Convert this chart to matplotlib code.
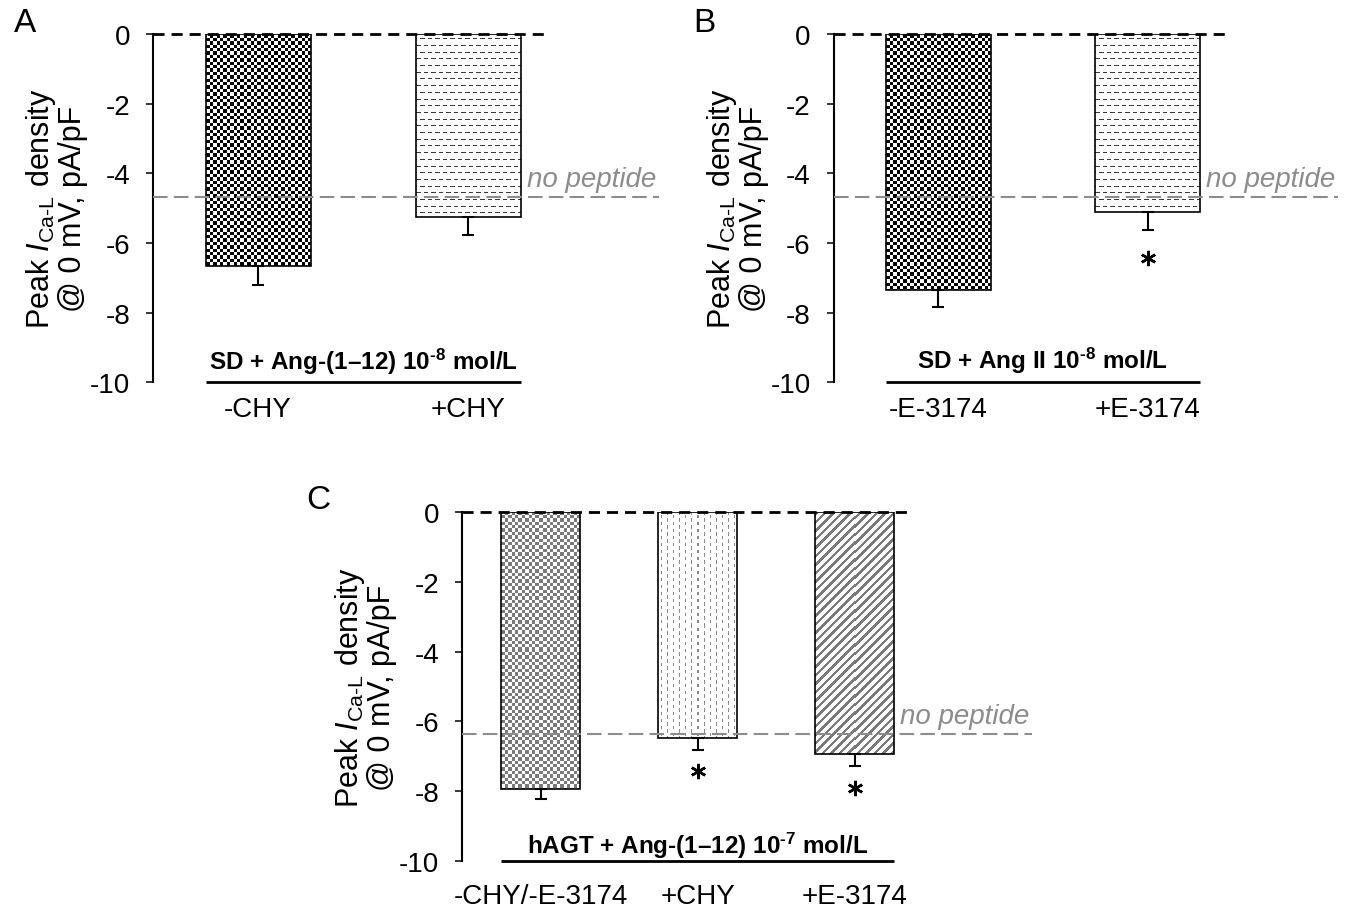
import numpy as np
import matplotlib
matplotlib.use("Agg")
import matplotlib.pyplot as plt
from matplotlib import transforms as mtrans
from matplotlib.colors import to_rgb

# ---------------- data ----------------
a_labels = ['-CHY', '+CHY']
a_values = [-6.65, -5.24]
a_errors = [0.55, 0.54]
a_nopep = -4.69
a_sig = [False, False]
a_group = 'SD + Ang-(1–12) 10$^{\\mathbf{‐8}}$ mol/L'

b_labels = ['-E-3174', '+E-3174']
b_values = [-7.34, -5.10]
b_errors = [0.51, 0.52]
b_nopep = -4.69
b_sig = [False, True]
b_group = 'SD + Ang II 10$^{\\mathbf{‐8}}$ mol/L'

c_labels = ['-CHY/-E-3174', '+CHY', '+E-3174']
c_values = [-7.94, -6.48, -6.92]
c_errors = [0.28, 0.33, 0.36]
c_nopep = -6.35
c_sig = [False, True, True]
c_group = 'hAGT + Ang-(1–12) 10$^{\\mathbf{‐7}}$ mol/L'

y_ticks = [0, -2, -4, -6, -8, -10]
ylabel1 = 'Peak $I_{\\text{Ca-L}}$ density'
ylabel2 = '@ 0 mV, pA/pF'

# ---------------- style ----------------
plt.rcParams['font.family'] = ['Liberation Sans', 'DejaVu Sans']
plt.rcParams['mathtext.fontset'] = 'custom'
plt.rcParams['mathtext.rm'] = 'Liberation Sans'
plt.rcParams['mathtext.it'] = 'Liberation Sans:italic'
plt.rcParams['mathtext.bf'] = 'Liberation Sans:bold'
plt.rcParams['axes.unicode_minus'] = False

W, H, DPI = 1355, 912, 100
fig = plt.figure(figsize=(W / DPI, H / DPI), dpi=DPI)
GRAY_TXT = '#8c8c8c'


def px_axes(left, top, right, bottom):
    return fig.add_axes([left / W, 1 - bottom / H, (right - left) / W, (bottom - top) / H])


def grid(w, h):
    jj, ii = np.meshgrid(np.arange(w), np.arange(h))
    return ii, jj


def compose(mask, fg, bg='white'):
    fg = np.array(to_rgb(fg)); bg = np.array(to_rgb(bg))
    return np.where(mask[..., None], fg, bg)


def pat_checker(w, h, color):
    ii, jj = grid(w, h)
    cell = 3.4
    m = ((np.floor(ii / cell) + np.floor(jj / cell)) % 2).astype(bool)
    return compose(m, color)


def pat_hdash(w, h):
    ii, jj = grid(w, h)
    rp = 6.7
    rows = np.floor((ii + 3) / rp)
    on_row = ((ii + 3) % rp) < 1
    off = (rows % 2) * 3.75
    m = on_row & (((jj + off) % 7.5) < 4.5)
    return compose(m, '#3a3a3a')


def pat_vdash(w, h):
    ii, jj = grid(w, h)
    cp = 6.0
    cols = np.floor((jj + 3) / cp)
    on_col = ((jj + 3) % cp) < 1
    off = (cols % 2) * 3.5
    m = on_col & (((ii + off) % 7.0) < 3.5)
    return compose(m, '#8a8a8a')


def pat_diag(w, h):
    ii, jj = grid(w, h)
    m = ((jj + ii) % 8.5) < 3.5
    return compose(m, '#7a7a7a')


def panel(box, labels, values, errors, nopep, sig, group, patterns,
          letter, letter_xy, xlab_pad, group_off, star_off):
    n = len(values)
    ax = px_axes(*box)
    ax.set_xlim(-0.5, n - 0.5)
    ax.set_ylim(-10, 0)
    ax.set_autoscale_on(False)
    x = np.arange(n)
    bars = ax.bar(x, values, width=0.5, facecolor='none', edgecolor='black',
                  linewidth=1.2, zorder=3)
    for rect, pat in zip(bars, patterns):
        x0, w = rect.get_x(), rect.get_width()
        y1 = rect.get_height()
        p0 = ax.transData.transform((x0, 0))
        p1 = ax.transData.transform((x0 + w, y1))
        wp = max(1, int(round(abs(p1[0] - p0[0]))))
        hp = max(1, int(round(abs(p1[1] - p0[1]))))
        img = pat(wp, hp)
        im = ax.imshow(img, extent=(x0, x0 + w, y1, 0), origin='upper',
                       interpolation='nearest', aspect='auto', zorder=2)
        im.set_clip_path(rect)
    ax.errorbar(x, values, yerr=[errors, np.zeros(n)], fmt='none', ecolor='black',
                elinewidth=1.5, capsize=4, capthick=1.5, zorder=4)
    last = bars[-1]
    xr = last.get_x() + last.get_width()
    # zero dashed line (ends a little past the last bar)
    ax.plot([-0.5, xr + 0.12], [0, 0], color='black', lw=2, dashes=(4, 2.5),
            clip_on=False, zorder=5)
    # no-peptide line and label
    txt = ax.annotate('no peptide', xy=(xr, nopep), xytext=(4.5, 8),
                      textcoords='offset points', ha='left', va='baseline',
                      style='italic', color=GRAY_TXT, fontsize=20,
                      annotation_clip=False)
    npl, = ax.plot([-0.5, xr], [nopep, nopep], color=GRAY_TXT, lw=1.5,
                   dashes=(7, 3), clip_on=False, zorder=6)
    # stars
    st = mtrans.offset_copy(ax.transData, fig=fig, x=0, y=-star_off, units='points')
    for xi, v, e, s in zip(x, values, errors, sig):
        if s:
            ax.plot([xi], [v - e], marker=(6, 2, 0), ms=11, mew=1.8, color='black',
                    ls='none', transform=st, zorder=5, clip_on=False)
    # group bracket
    xl = bars[0].get_x()
    ax.plot([xl, xr], [-10, -10], color='black', lw=2, clip_on=False,
            solid_capstyle='butt', zorder=5)
    ax.annotate(group, xy=((xl + xr) / 2, -10), xytext=(0, group_off),
                textcoords='offset points', ha='center', va='baseline',
                fontweight='bold', fontsize=17.5, annotation_clip=False)
    # axes styling
    for s in ['top', 'right', 'bottom']:
        ax.spines[s].set_visible(False)
    ax.spines['left'].set_linewidth(1.5)
    ax.set_yticks(y_ticks)
    ax.set_yticklabels([str(t) for t in y_ticks])
    ax.tick_params(axis='y', direction='out', length=5, width=1.1, labelsize=20, pad=11.5)
    ax.set_xticks(x)
    ax.set_xticklabels(labels)
    ax.tick_params(axis='x', length=0, labelsize=20, pad=xlab_pad)
    # y label (two lines)
    left, top, right, bottom = box
    yc = 1 - ((top + bottom) / 2) / H
    fig.text((left - 112) / W, yc, ylabel1, rotation=90, ha='center', va='center', fontsize=22)
    fig.text((left - 80) / W, yc, ylabel2, rotation=90, ha='center', va='center', fontsize=22)
    fig.text(letter_xy[0] / W, 1 - letter_xy[1] / H, letter, fontsize=24,
             ha='center', va='baseline')
    return ax, txt, npl, nopep


panels = []
panels.append(panel((153, 35, 573, 383.3), a_labels, a_values, a_errors, a_nopep, a_sig,
                    a_group, [lambda w, h: pat_checker(w, h, 'black'), pat_hdash],
                    'A', (25, 32), 9.9, 10, 20))
panels.append(panel((833.7, 35, 1252.1, 383.3), b_labels, b_values, b_errors, b_nopep, b_sig,
                    b_group, [lambda w, h: pat_checker(w, h, 'black'), pat_hdash],
                    'B', (704, 32), 9.9, 10.5, 20))
panels.append(panel((462, 513, 933, 862), c_labels, c_values, c_errors, c_nopep, c_sig,
                    c_group, [lambda w, h: pat_checker(w, h, '#7a7a7a'), pat_vdash, pat_diag],
                    'C', (318, 509), 16, 6, 15.5))

fig.canvas.draw()
for ax, txt, npl, yv in panels:
    bb = txt.get_window_extent()
    xend = ax.transData.inverted().transform((bb.x1 + 3, 0))[0]
    npl.set_xdata([-0.5, xend])

fig.savefig('out.png', dpi=DPI)
